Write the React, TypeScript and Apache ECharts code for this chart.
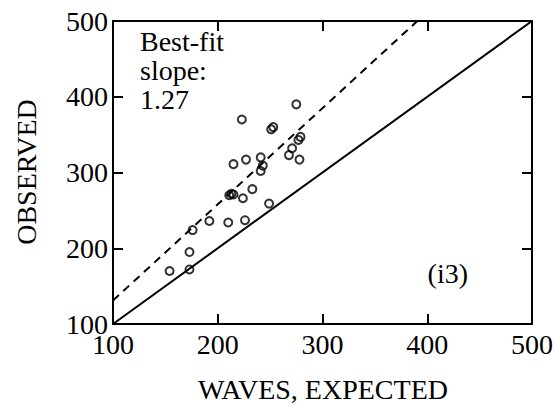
import React, { useEffect, useRef } from "react";
import * as echarts from "echarts";

// Expected (x) vs observed (y) wave counts
const expected = [154, 173, 173, 176, 192, 210, 226, 249, 224, 233, 211, 213, 215, 215, 227, 241, 243, 241, 223, 251, 253, 275, 277, 279, 271, 268, 278];
const observed = [170, 172, 195, 224, 236, 234, 237, 259, 266, 278, 270, 272, 271, 311, 317, 320, 309, 302, 370, 357, 360, 390, 343, 347, 332, 323, 317];

const axisTicks = [100, 200, 300, 400, 500];
const fitSlope = 1.27;
const fitIntercept = 4;
const slopeLabel = ["Best-fit", "slope:", "1.27"];
const panelLabel = "(i3)";

const FONT = "Liberation Serif";

export default function App() {
  const ref = useRef<HTMLDivElement>(null);

  useEffect(() => {
    if (!ref.current) return;
    const chart = echarts.init(ref.current, null, { renderer: "svg" });
    const lo = axisTicks[0];
    const hi = axisTicks[axisTicks.length - 1];
    const fitEndX = (hi - fitIntercept) / fitSlope;

    const baseAxis = {
      min: lo,
      max: hi,
      interval: 100,
      type: "value" as const,
      axisLine: { show: true, lineStyle: { color: "#000", width: 2 } },
      axisTick: { show: true, inside: true, length: 10, lineStyle: { color: "#000", width: 2 } },
      splitLine: { show: false },
    };
    const labelStyle = { color: "#000", fontSize: 28, fontFamily: FONT };
    const textStyle = (text: string, extra: object = {}) => ({
      text,
      fill: "#000",
      fontSize: 28,
      fontFamily: FONT,
      ...extra,
    });

    chart.setOption({
      animation: false,
      backgroundColor: "#fff",
      grid: { left: 113, right: 27, top: 21, bottom: 83 },
      xAxis: [
        { ...baseAxis, position: "bottom", axisLabel: { ...labelStyle, margin: 6 } },
        { ...baseAxis, position: "top", axisLabel: { show: false } },
      ],
      yAxis: [
        { ...baseAxis, position: "left", axisLabel: { ...labelStyle, margin: 5 } },
        { ...baseAxis, position: "right", axisLabel: { show: false } },
      ],
      graphic: [
        {
          type: "text",
          x: 26,
          y: 172,
          rotation: Math.PI / 2,
          style: textStyle("OBSERVED", { align: "center", verticalAlign: "middle" }),
        },
        {
          type: "text",
          x: 323,
          y: 389,
          style: textStyle("WAVES, EXPECTED", { align: "center", verticalAlign: "middle" }),
        },
        {
          type: "text",
          x: 140,
          y: 27,
          style: textStyle(slopeLabel.join("\n"), { lineHeight: 29 }),
        },
        {
          type: "text",
          x: 468,
          y: 273,
          style: textStyle(panelLabel, { align: "right", verticalAlign: "middle" }),
        },
      ],
      series: [
        {
          type: "line",
          data: [[lo, lo], [hi, hi]],
          symbol: "none",
          lineStyle: { color: "#000", width: 2 },
          silent: true,
        },
        {
          type: "line",
          data: [[lo, fitSlope * lo + fitIntercept], [fitEndX, hi]],
          symbol: "none",
          lineStyle: { color: "#000", width: 2, type: [8, 6] },
          silent: true,
        },
        {
          type: "scatter",
          data: expected.map((x, i) => [x, observed[i]]),
          symbol: "circle",
          symbolSize: 8,
          itemStyle: { color: "rgba(0,0,0,0)", borderColor: "#000", borderWidth: 2 },
        },
      ],
    });
    return () => chart.dispose();
  }, []);

  return <div ref={ref} style={{ width: 559, height: 407, position: "absolute", left: 0, top: 0 }} />;
}
